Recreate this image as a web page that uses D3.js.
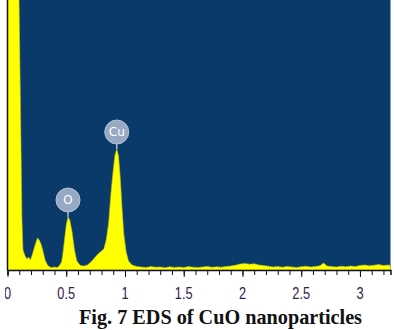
<!DOCTYPE html>
<html>
<head>
<meta charset="utf-8">
<script src="https://cdn.jsdelivr.net/npm/d3@7"></script>
<style>
  body { margin: 0; background: #fff; }
  svg { display: block; }
</style>
</head>
<body>
<script>
// EDS spectrum: energy (keV) and counts (arbitrary)
var energy = [0, 0.05, 0.095, 0.112, 0.123, 0.132, 0.15, 0.165, 0.18, 0.195, 0.21, 0.235, 0.255, 0.27, 0.285, 0.30, 0.32, 0.34, 0.36, 0.38, 0.40, 0.42, 0.44,
  0.46, 0.47, 0.48, 0.50, 0.515, 0.53, 0.55, 0.57, 0.59, 0.62, 0.65, 0.68, 0.71, 0.74, 0.77, 0.80, 0.82, 0.84, 0.86, 0.88, 0.90, 0.915, 0.93, 0.945,
  0.96, 0.975, 0.99, 1.01, 1.03, 1.06, 1.10, 1.14, 1.18, 1.22, 1.26, 1.30, 1.34, 1.38, 1.42, 1.46, 1.50, 1.54, 1.58, 1.62, 1.66, 1.70, 1.74,
  1.78, 1.82, 1.86, 1.90, 1.94, 1.98, 2.02, 2.06, 2.10, 2.14, 2.18, 2.22, 2.26, 2.30, 2.34, 2.38, 2.42, 2.46, 2.50, 2.54, 2.58, 2.62, 2.66,
  2.69, 2.72, 2.76, 2.80, 2.84, 2.88, 2.92, 2.96, 3.00, 3.04, 3.08, 3.12, 3.16, 3.20, 3.24, 3.26]
var counts = [6000, 6000, 3000, 1500, 500, 200, 140, 110, 130, 100, 150, 250, 320, 300, 260, 200, 100, 50, 30, 25, 30, 25, 40,
  80, 150, 250, 450, 530, 500, 380, 200, 90, 45, 40, 50, 80, 120, 160, 190, 210, 300, 460, 760, 1000, 1150, 1210, 1140,
  920, 620, 360, 180, 90, 50, 35, 30, 25, 35, 28, 30, 22, 32, 26, 30, 24, 34, 28, 25, 30, 36, 27,
  32, 28, 35, 40, 48, 60, 65, 58, 62, 50, 45, 38, 30, 34, 28, 36, 30, 26, 32, 38, 30, 35, 42,
  70, 40, 34, 30, 38, 32, 40, 35, 45, 50, 42, 48, 55, 45, 50, 45]

var peaks = [
  {name: 'O', e: 0.515, c: 530},
  {name: 'Cu', e: 0.93, c: 1210}
]
var tickMajor = [0, 0.5, 1, 1.5, 2, 2.5, 3]
var tickLabels = ['0', '0.5', '1', '1.5', '2', '2.5', '3']
var caption = 'Fig. 7 EDS of CuO nanoparticles'

var width = 394, height = 330
var svg = d3.select('body').append('svg').attr('width', width).attr('height', height)

var plot = {left: 7.5, right: 390.5, top: 0, bottom: 270}

var x = d3.scaleLinear().domain([0, 3.26]).range([plot.left, plot.right])
var y = d3.scaleLinear().domain([0, 2700]).range([plot.bottom, plot.top])

svg.append('clipPath').attr('id', 'clip')
  .append('rect').attr('x', plot.left).attr('y', plot.top)
  .attr('width', plot.right - plot.left).attr('height', plot.bottom - plot.top)

svg.append('rect').attr('x', plot.left).attr('y', plot.top)
  .attr('width', plot.right - plot.left).attr('height', plot.bottom - plot.top)
  .attr('fill', '#0a3a6a')

var pts = energy.map(function(e, i) { return [e, counts[i]] })

var area = d3.area()
  .x(function(d) { return x(d[0]) })
  .y0(y(0))
  .y1(function(d) { return y(d[1]) })

svg.append('path').datum(pts)
  .attr('clip-path', 'url(#clip)')
  .attr('d', area)
  .attr('fill', '#ffff00')
  .attr('stroke', '#b8c020')
  .attr('stroke-width', 0.6)

// element markers
var mk = svg.append('g')
peaks.forEach(function(p) {
  var cx = x(p.e), top = y(p.c)
  var cy = top - 17
  mk.append('line').attr('x1', cx).attr('x2', cx).attr('y1', cy).attr('y2', top)
    .attr('stroke', '#a8b8cc').attr('stroke-width', 1.5)
  mk.append('circle').attr('cx', cx).attr('cy', cy).attr('r', 12)
    .attr('fill', '#98a9c3').attr('stroke', '#b4c2d4').attr('stroke-width', 1)
  mk.append('text').attr('x', cx).attr('y', cy).attr('dy', '0.36em')
    .attr('text-anchor', 'middle')
    .attr('font-family', 'DejaVu Sans, sans-serif').attr('font-size', 12)
    .attr('fill', '#ffffff').text(p.name)
})

// frame
svg.append('line').attr('x1', plot.left).attr('x2', plot.left).attr('y1', 0).attr('y2', plot.bottom)
  .attr('stroke', '#111').attr('stroke-width', 1.5)

var minor = d3.range(0, 33).map(function(i) { return i / 10 })
svg.append('g').attr('transform', 'translate(0,' + plot.bottom + ')')
  .call(d3.axisBottom(x).tickValues(minor).tickSize(5).tickFormat(''))
  .call(function(g) {
    g.select('.domain').attr('stroke', '#111').attr('stroke-width', 1.5)
    g.selectAll('.tick line').attr('stroke', '#111')
  })
svg.append('g').attr('transform', 'translate(0,' + plot.bottom + ')')
  .call(d3.axisBottom(x).tickValues(tickMajor).tickSize(7).tickFormat(''))
  .call(function(g) {
    g.select('.domain').remove()
    g.selectAll('.tick line').attr('stroke', '#111')
  })

svg.append('clipPath').attr('id', 'clipLab')
  .append('rect').attr('x', 5).attr('y', 275).attr('width', 389).attr('height', 30)

svg.append('g').attr('clip-path', 'url(#clipLab)')
  .selectAll('text').data(tickMajor).enter().append('text')
  .attr('transform', function(d) { return 'translate(' + x(d) + ',299) scale(0.8,1)' })
  .attr('text-anchor', 'middle')
  .attr('font-family', 'Liberation Sans, Arial, sans-serif').attr('font-size', 16)
  .attr('fill', '#36204e')
  .text(function(d, i) { return tickLabels[i] })

svg.append('text').attr('x', 220.5).attr('y', 324)
  .attr('text-anchor', 'middle')
  .attr('font-family', 'Liberation Serif, Times New Roman, serif')
  .attr('font-weight', 'bold').attr('font-size', 21)
  .attr('textLength', 283).attr('lengthAdjust', 'spacingAndGlyphs')
  .attr('fill', '#111').text(caption)
</script>
</body>
</html>
